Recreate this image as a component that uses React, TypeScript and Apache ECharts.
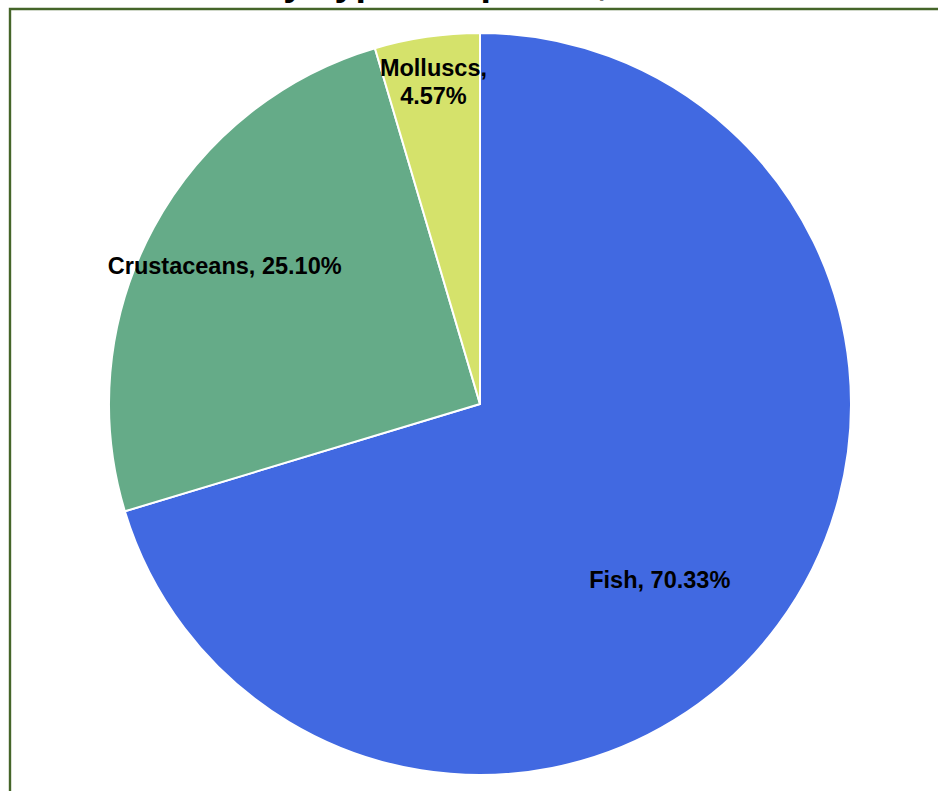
import React, { useEffect, useRef } from "react";
import * as echarts from "echarts";

const categories = ["Fish", "Crustaceans", "Molluscs"];
const shares = [70.33, 25.1, 4.57];
const sliceColors = ["#4169E1", "#65AB88", "#D5E26B"];
const titleText = "Production by Type of Species, 2022";

const CX = 480;
const CY = 404;
const R = 371;

// radial placement of each slice's label (fraction of radius, angular nudge in degrees)
const labelPlacement = [
  { k: 0.678, da: 7.8 },
  { k: 0.782, da: 0 },
  { k: 0.877, da: 0 },
];

export default function App() {
  const ref = useRef<HTMLDivElement>(null);

  useEffect(() => {
    if (!ref.current) return;
    const chart = echarts.init(ref.current, null, { renderer: "svg" });
    const font = "'Liberation Sans', Arial, sans-serif";

    chart.setOption({
      animation: false,
      backgroundColor: "#ffffff",
      title: {
        text: titleText,
        left: 52,
        top: -37,
        padding: 0,
        textStyle: {
          fontFamily: font,
          fontSize: 37.5,
          fontWeight: "bold",
          color: "#000000",
        },
      },
      graphic: [
        {
          type: "rect",
          shape: { x: 10, y: 9, width: 960, height: 820 },
          style: { fill: "none", stroke: "#456529", lineWidth: 2.4 },
          silent: true,
          z: 10,
        },
      ],
      series: [
        {
          type: "pie",
          center: [CX, CY],
          radius: [0, R],
          startAngle: 90,
          clockwise: true,
          data: categories.map((name, i) => ({
            name,
            value: shares[i],
            itemStyle: { color: sliceColors[i] },
            label:
              name === "Molluscs"
                ? { formatter: `${name},\n${shares[i].toFixed(2)}%` }
                : undefined,
          })),
          itemStyle: { borderColor: "#ffffff", borderWidth: 2 },
          label: {
            show: true,
            position: "inside",
            formatter: (p: any) => `${p.name}, ${Number(p.value).toFixed(2)}%`,
            fontFamily: font,
            fontSize: 23.5,
            fontWeight: "bold",
            color: "#000000",
            lineHeight: 28,
            align: "center",
          },
          labelLine: { show: false },
          emphasis: { disabled: true },
          labelLayout: (p: any) => {
            const place = labelPlacement[p.dataIndex] || { k: 0.5, da: 0 };
            const rect = p.labelRect;
            const lx = rect.x + rect.width / 2;
            const ly = rect.y + rect.height / 2;
            const ang = Math.atan2(lx - CX, -(ly - CY)) + (place.da * Math.PI) / 180;
            const rr = R * place.k;
            const tx = CX + rr * Math.sin(ang);
            const ty = CY - rr * Math.cos(ang);
            return { dx: tx - lx, dy: ty - ly };
          },
        },
      ],
    });

    return () => chart.dispose();
  }, []);

  return (
    <div
      ref={ref}
      style={{ position: "fixed", left: 0, top: 0, width: 938, height: 791 }}
    />
  );
}
